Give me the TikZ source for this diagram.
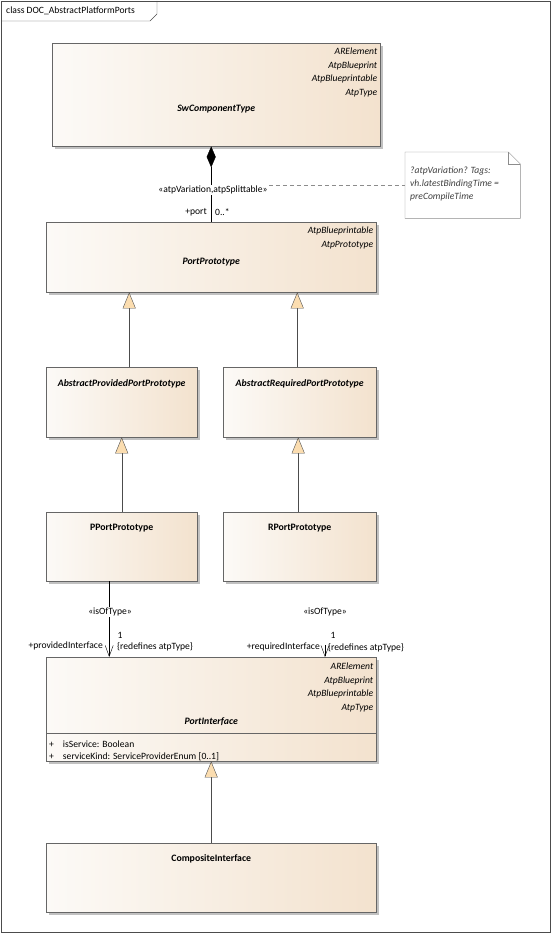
\documentclass[tikz,border=0pt]{standalone}
\usepackage{fontspec}
\setmainfont{Carlito}
\usetikzlibrary{arrows.meta,shadows}
\definecolor{boxlight}{RGB}{252,250,247}
\definecolor{boxbeige}{RGB}{243,226,206}
\definecolor{trifill}{RGB}{251,221,176}

\begin{document}
\begin{tikzpicture}[x=1pt, y=-1pt, every node/.style={font=\fontsize{9.6}{10}\selectfont, inner sep=1pt},
	classbox/.style 2 args={draw=black!60, left color=boxlight, right color=boxbeige, minimum width=#1, minimum height=#2, anchor=north west, inner sep=0pt, drop shadow={shadow xshift=3pt, shadow yshift=-3pt, fill=black!30, opacity=0.8}},
	stereo/.style={anchor=north east, align=right, font=\fontsize{9.6}{13.5}\selectfont\itshape},
	absname/.style={font=\fontsize{9.8}{10}\selectfont\bfseries\itshape},
	clsname/.style={font=\fontsize{9.8}{10}\selectfont\bfseries},
	gen/.style={draw=black!70, {Triangle[length=16pt,width=13pt,fill=trifill]}-},
	comp/.style={draw=black, {Diamond[length=21pt,width=9pt,fill=black]}-},
	assoc/.style={draw=black, -{Straight Barb[length=11pt,width=8pt]}}]
	\useasboundingbox (0,0) rectangle (551,933);
	% frame
	\draw[black!70] (1,1) rectangle (550,932);
	\node[anchor=west] (title) at (5,11) {class DOC\_AbstractPlatformPorts};
	\draw[black!70] (1,21) -- (150,21) -- (157,14) -- (157,1);

	% classes
	\node[classbox={328pt}{103pt}] (swc) at (52,43) {};
	\node[stereo] (swcst) at ([xshift=-2pt,yshift=-4pt]swc.north east) {ARElement\\AtpBlueprint\\AtpBlueprintable\\AtpType};
	\node[absname] (swcname) at ([yshift=-66pt]swc.north) {SwComponentType};

	\node[classbox={330pt}{70pt}] (pp) at (46,222) {};
	\node[stereo] (ppst) at ([xshift=-2pt,yshift=-4pt]pp.north east) {AtpBlueprintable\\AtpPrototype};
	\node[absname] (ppname) at ([yshift=-40pt]pp.north) {PortPrototype};

	\node[classbox={151pt}{70pt}] (app) at (46,367) {};
	\node[absname] (appname) at ([yshift=-17pt]app.north) {AbstractProvidedPortPrototype};
	\node[classbox={153pt}{70pt}] (arp) at (223,367) {};
	\node[absname] (arpname) at ([yshift=-17pt]arp.north) {AbstractRequiredPortPrototype};

	\node[classbox={151pt}{69pt}] (ppp) at (46,512) {};
	\node[clsname] (pppname) at ([yshift=-16pt]ppp.north) {PPortPrototype};
	\node[classbox={153pt}{69pt}] (rpp) at (223,512) {};
	\node[clsname] (rppname) at ([yshift=-16pt]rpp.north) {RPortPrototype};

	\node[classbox={330pt}{104pt}] (pi) at (46,657) {};
	\node[stereo] (pist) at ([xshift=-2pt,yshift=-5pt]pi.north east) {ARElement\\AtpBlueprint\\AtpBlueprintable\\AtpType};
	\node[absname] (piname) at ([yshift=-65pt]pi.north) {PortInterface};
	\draw[black!60] ([yshift=-76pt]pi.north west) -- ([yshift=-76pt]pi.north east);
	\node[anchor=west] (piattr1) at (48,744) {+\hspace{9pt}isService: Boolean};
	\node[anchor=west] (piattr2) at (48,757) {+\hspace{9pt}serviceKind: ServiceProviderEnum [0..1]};

	\node[classbox={330pt}{69pt}] (ci) at (46,843) {};
	\node[clsname] (ciname) at ([yshift=-16pt]ci.north) {CompositeInterface};

	% note
	\node[minimum width=115pt, minimum height=66pt, anchor=north west, fill=white] (note) at (405,152) {};
	\draw[black!45] (note.north west) -- ([xshift=-12pt]note.north east) -- ([yshift=-12pt]note.north east) -- (note.south east) -- (note.south west) -- cycle;
	\draw[black!45] ([xshift=-12pt]note.north east) -- ([xshift=-12pt,yshift=-12pt]note.north east) -- ([yshift=-12pt]note.north east);
	\node[anchor=north west, align=left, font=\fontsize{9.6}{13}\selectfont\itshape, text=black!75] (notetext) at (409,166) {?atpVariation? Tags:\\vh.latestBindingTime =\\preCompileTime};

	% composition
	\draw[comp] (swc.south -| pp.north) -- (pp.north);
	\node[fill=white] (varlbl) at (213,190) {«atpVariation,atpSplittable»};
	\node[anchor=east] (portrole) at (208,212) {+port};
	\node[anchor=west] (portmult) at (214,212) {0..*};
	\draw[black!45, dash pattern=on 4pt off 3pt] (varlbl.east |- note.west) -- (note.west);

	% generalizations
	\draw[gen] ([xshift=7.5pt]app.north |- pp.south) -- ([xshift=7.5pt]app.north);
	\draw[gen] ([xshift=-2.5pt]arp.north |- pp.south) -- ([xshift=-2.5pt]arp.north);
	\draw[gen] (ppp.north |- app.south) -- (ppp.north);
	\draw[gen] ([xshift=-1.5pt]rpp.north |- arp.south) -- ([xshift=-1.5pt]rpp.north);
	\draw[gen] (ci.north |- pi.south) -- (ci.north);

	% isOfType
	\draw[assoc] ([xshift=-12.5pt]ppp.south) -- ([xshift=-12.5pt]ppp.south |- pi.north);
	\node[fill=white] (ptype) at (110,612) {«isOfType»};
	\node (pmult) at (120,635) {1};
	\node[anchor=east] (prole) at (104,646) {+providedInterface};
	\node[anchor=west] (predef) at (116,647) {\{redefines atpType\}};

	\coordinate (rtail) at (325,645);
	\draw[assoc] (rtail) -- (rtail |- pi.north);
	\node (rtype) at (325,612) {«isOfType»};
	\node (rmult) at (333,635) {1};
	\node[anchor=east] (rrole) at (321,647) {+requiredInterface};
	\node[anchor=west] (rredef) at (327,648) {\{redefines atpType\}};
\end{tikzpicture}
\end{document}
